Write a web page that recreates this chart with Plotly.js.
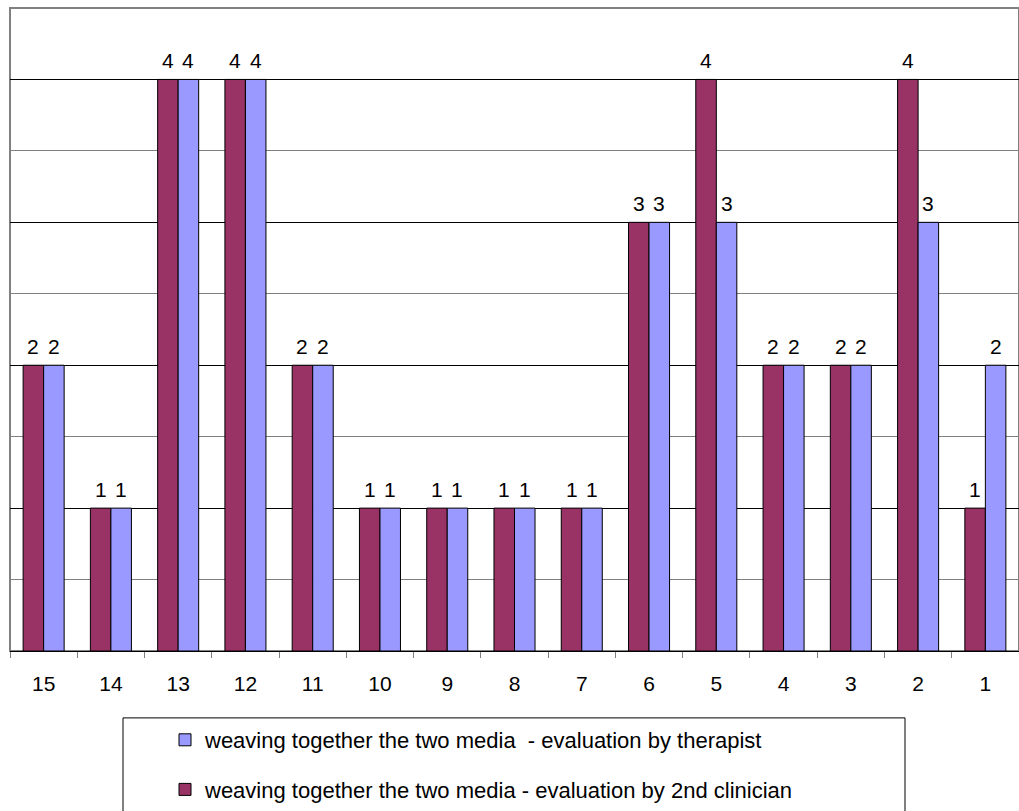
<!DOCTYPE html>
<html>
<head>
<meta charset="utf-8">
<script src="https://cdn.plot.ly/plotly-3.0.1.min.js"></script>
<style>
html,body{margin:0;padding:0;background:#fff}
#chart{width:1019px;height:811px}
</style>
</head>
<body>
<div id="chart"></div>
<script>
const categories = ['15','14','13','12','11','10','9','8','7','6','5','4','3','2','1'];
const clinicianValues = [2,1,4,4,2,1,1,1,1,3,4,2,2,4,1];
const therapistValues = [2,1,4,4,2,1,1,1,1,3,3,2,2,3,2];
const clinicianName = 'weaving together the two media - evaluation by 2nd clinician';
const therapistName = 'weaving together the two media  - evaluation by therapist';

const FONT = 'Liberation Sans, Arial, sans-serif';
const W = 1019, H = 811;
const M = {l: 10, r: 0, t: 8, b: 159};
const plotW = W - M.l - M.r, plotH = H - M.t - M.b;
const BARGAP = 0.39;

const traces = [
  {type:'bar', name: clinicianName, x: categories, y: clinicianValues,
   marker:{color:'#993366', line:{color:'#000', width:1}},
   legendgroup:'clin', legendrank:2, hoverinfo:'none'},
  {type:'bar', name: therapistName, x: categories, y: therapistValues,
   marker:{color:'#9999FF', line:{color:'#000', width:1}},
   legendgroup:'ther', legendrank:1, hoverinfo:'none'}
];

// value labels above each bar, placed through the axis scales (category index)
const catPx = plotW / categories.length;
const barPx = catPx * (1 - BARGAP) / 2;
const annotations = [];
[clinicianValues, therapistValues].forEach((vals, k) => {
  vals.forEach((v, i) => {
    annotations.push({x: i, y: v, xref:'x', yref:'y', text: String(v),
      showarrow:false, xanchor:'center', yanchor:'bottom',
      xshift: (k === 0 ? -1 : 1) * barPx / 2, yshift: 5,
      font:{family:FONT, size:21, color:'#000'}});
  });
});

const layout = {
  width: W, height: H,
  margin: M,
  paper_bgcolor:'#fff', plot_bgcolor:'#fff',
  barmode:'group', bargap:BARGAP, bargroupgap:0,
  showlegend:true,
  font:{family:FONT, size:21, color:'#000'},
  xaxis:{type:'category', categoryorder:'array', categoryarray:categories,
         range:[-0.5, categories.length - 0.5],
         tickson:'boundaries', ticks:'outside', ticklen:6, tickcolor:'#808080',
         showline:true, linecolor:'#000', linewidth:1, showgrid:false, ticklabelstandoff:14,
         tickfont:{family:FONT, size:21, color:'#000'}, fixedrange:true},
  yaxis:{range:[0,4.5], dtick:1, showgrid:true, gridcolor:'#000', gridwidth:1,
         showticklabels:false, ticks:'', zeroline:true, zerolinecolor:'#000',
         minor:{dtick:0.5, showgrid:true, gridcolor:'#808080', gridwidth:1},
         showline:false, fixedrange:true},
  legend:{traceorder:'grouped', tracegroupgap:18, x:(165-M.l)/plotW, xanchor:'left',
          y:-(720-M.t-plotH)/plotH, yanchor:'top', bgcolor:'rgba(0,0,0,0)', borderwidth:0,
          font:{family:FONT, size:22, color:'#000'}},
  annotations: annotations,
  shapes:[
    {type:'rect', xref:'paper', yref:'paper', x0:0, x1:1, y0:0, y1:1, layer:'below',
     line:{color:'#808080', width:2}},
    {type:'rect', xref:'paper', yref:'paper', x0:(123-M.l)/plotW, x1:(905-M.l)/plotW,
     y0:-(830-M.t-plotH)/plotH, y1:-(719-M.t-plotH)/plotH, line:{color:'#000', width:1}}
  ]
};

Plotly.newPlot('chart', traces, layout, {displayModeBar:false, staticPlot:true});
</script>
</body>
</html>
